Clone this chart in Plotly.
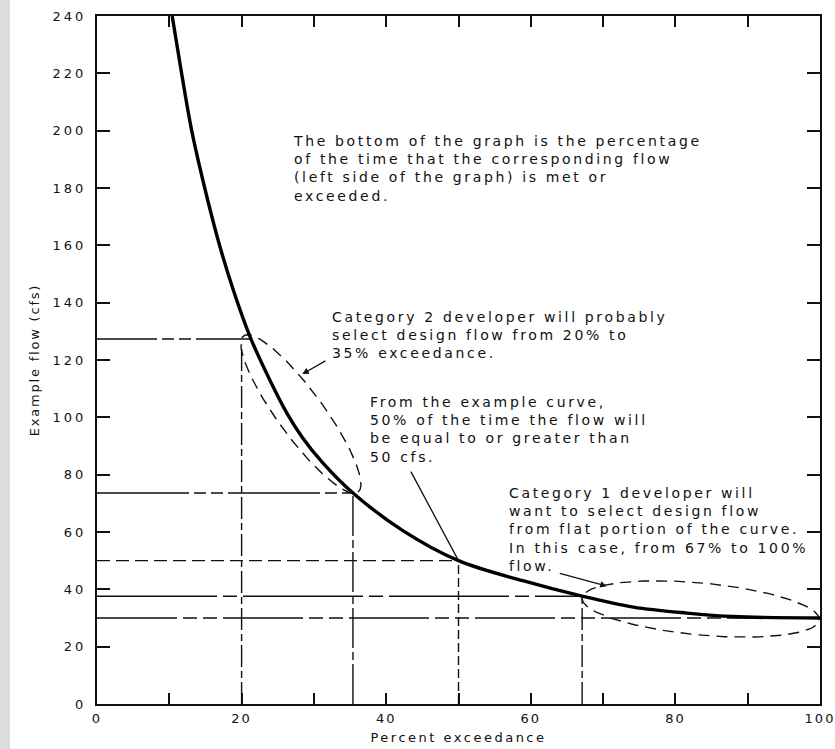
import numpy as np
import plotly.graph_objects as go

# ---------------- data ----------------
curve_pct = [10.4, 11.7, 13.1, 14.9, 16.95, 19.0, 21.3, 24.0, 26.3, 28.4, 31.2, 35.4, 42.3, 50.0, 58.9, 67.1, 74.2, 81.6, 88.0, 100.0]
curve_flow = [240, 220, 200, 180, 160, 143.3, 127.3, 112.5, 101.3, 93.0, 84.2, 73.6, 60.5, 50.0, 43.0, 37.6, 33.8, 31.7, 30.5, 30.0]

# horizontal reference lines: flow level and the exceedance where they stop
h_levels = [127.3, 73.6, 50.0, 37.6, 30.0]
h_ends = [21.3, 35.4, 50.0, 67.1, 100.0]
# vertical reference lines: exceedance and flow where they stop
v_positions = [20.0, 35.4, 50.0, 67.1]
v_tops = [125.5, 73.6, 50.0, 37.6]

x_tickvals = [0, 10, 20, 30, 40, 50, 60, 70, 80, 90, 100]
x_ticktext = ["0", "", "20", "", "40", "", "60", "", "80", "", "100"]
y_tickvals = [0, 20, 40, 60, 80, 100, 120, 140, 160, 180, 200, 220, 240]
y_ticktext = [str(v) for v in y_tickvals]

# ellipses (tips along the major axis, in data units)
cat2_tips = [(20.3, 128.4), (36.1, 73.9)]
cat1_tips = [(67.1, 37.0), (99.9, 29.3)]

texts = [
    "The bottom of the graph is the percentage<br>of the time that the corresponding flow<br>(left side of the graph) is met or<br>exceeded.",
    "Category 2 developer will probably<br>select design flow from 20% to<br>35% exceedance.",
    "From the example curve,<br>50% of the time the flow will<br>be equal to or greater than<br>50 cfs.",
    "Category 1 developer will<br>want to select design flow<br>from flat portion of the curve.<br>In this case, from 67% to 100%<br>flow.",
]
text_pos = [(26.9, 199.8), (32.2, 138.6), (37.5, 108.8), (56.7, 77.1)]

# arrows: (head x, head y, tail x, tail y)
arrows = [(28.4, 115.1, 31.8, 120.0), (50.0, 50.0, 43.3, 81.6), (70.5, 41.1, 63.8, 45.7)]
arrow_heads = [2, 0, 2]

# ---------------- layout constants ----------------
W, H = 835, 749
ML, MR, MT, MB = 97, 15, 16, 45
PW, PH = W - ML - MR, H - MT - MB
SX, SY = PW / 100.0, PH / 240.0  # px per data unit

INK = "#111111"
FONT = "DejaVu Sans"


def ellipse(tips, half_w_px, n=160):
    (x0, y0), (x1, y1) = tips
    X0, Y0, X1, Y1 = x0 * SX, y0 * SY, x1 * SX, y1 * SY
    cx, cy = (X0 + X1) / 2, (Y0 + Y1) / 2
    a = np.hypot(X1 - X0, Y1 - Y0) / 2
    ux, uy = (X1 - X0) / (2 * a), (Y1 - Y0) / (2 * a)
    vx, vy = -uy, ux
    t = np.linspace(0, 2 * np.pi, n)
    px = cx + a * np.cos(t) * ux + half_w_px * np.sin(t) * vx
    py = cy + a * np.cos(t) * uy + half_w_px * np.sin(t) * vy
    return px / SX, py / SY


fig = go.Figure()

h_dashes = ["60px,5px,12px,5px,12px,5px", "92px,5px,12px,5px,12px,5px", "13px,6px",
            "120px,6px,14px,6px", "80px,6px,14px,6px,14px,6px"]
for lvl, end, dsh in zip(h_levels, h_ends, h_dashes):
    fig.add_trace(go.Scatter(x=[0, end], y=[lvl, lvl], mode="lines",
                             line=dict(color=INK, width=1.4, dash=dsh),
                             hoverinfo="skip", showlegend=False))

v_dashes = ["22px,4px,7px,4px", "40px,4px,8px,4px", "9px,4px", "22px,4px,7px,4px"]
for pos, top, dsh in zip(v_positions, v_tops, v_dashes):
    fig.add_trace(go.Scatter(x=[pos, pos], y=[0, top], mode="lines",
                             line=dict(color=INK, width=1.4, dash=dsh),
                             hoverinfo="skip", showlegend=False))

for tips, hw in [(cat2_tips, 23), (cat1_tips, 26)]:
    ex, ey = ellipse(tips, hw)
    fig.add_trace(go.Scatter(x=ex, y=ey, mode="lines",
                             line=dict(color=INK, width=1.4, dash="11px,7px"),
                             hoverinfo="skip", showlegend=False))

fig.add_trace(go.Scatter(x=curve_pct, y=curve_flow, mode="lines",
                         line=dict(color="#000000", width=3.4, shape="spline", smoothing=1.0),
                         hoverinfo="skip", showlegend=False))

for txt, (tx, ty) in zip(texts, text_pos):
    fig.add_annotation(x=tx, y=ty, xref="x", yref="y", text=txt, showarrow=False,
                       xanchor="left", yanchor="top", align="left",
                       font=dict(family=FONT, size=14, color=INK))

for (hx, hy, tx, ty), ah in zip(arrows, arrow_heads):
    fig.add_annotation(x=hx, y=hy, ax=tx, ay=ty, xref="x", yref="y", axref="x", ayref="y",
                       text="", showarrow=True, arrowhead=ah, arrowsize=1, arrowwidth=1.3,
                       arrowcolor=INK, standoff=0, startstandoff=0)

# grey strip at the left edge of the page
fig.add_shape(type="rect", xref="paper", yref="paper",
              x0=-ML / PW, x1=(10 - ML) / PW, y0=-MB / PH, y1=1 + MT / PH,
              fillcolor="#dcdcdc", line=dict(width=0), layer="below")

axis_common = dict(showline=True, linecolor=INK, linewidth=2, mirror="allticks",
                   ticks="inside", tickcolor=INK, tickwidth=1.6, showgrid=False,
                   zeroline=False, automargin=False,
                   tickfont=dict(family=FONT, size=13, color=INK))

fig.update_layout(
    width=W, height=H, autosize=False,
    margin=dict(l=ML, r=MR, t=MT, b=MB),
    paper_bgcolor="white", plot_bgcolor="white",
    xaxis=dict(range=[0, 100], tickmode="array", tickvals=x_tickvals, ticktext=x_ticktext,
               ticklen=11, ticklabelstandoff=1,
               title=dict(text="Percent exceedance", standoff=8,
                          font=dict(family=FONT, size=13, color=INK)),
               **axis_common),
    yaxis=dict(range=[0, 240], tickmode="array", tickvals=y_tickvals, ticktext=y_ticktext,
               ticklen=13, ticklabelstandoff=6,
               title=dict(text="Example flow (cfs)", standoff=19,
                          font=dict(family=FONT, size=13, color=INK)),
               **axis_common),
)

post = """
document.body.style.margin = '0';
var gd = document.getElementById('{plot_id}');
function sp(sel, v){ gd.querySelectorAll(sel).forEach(function(t){ t.style.letterSpacing = v; }); }
sp('text.annotation-text', '2.65px');
sp('g.xtick text', '2px');
sp('g.ytick text', '3px');
sp('text.xtitle', '2.5px');
sp('text.ytitle', '1.8px');
"""

fig.write_html("out.html", post_script=post, config={"displayModeBar": False})
